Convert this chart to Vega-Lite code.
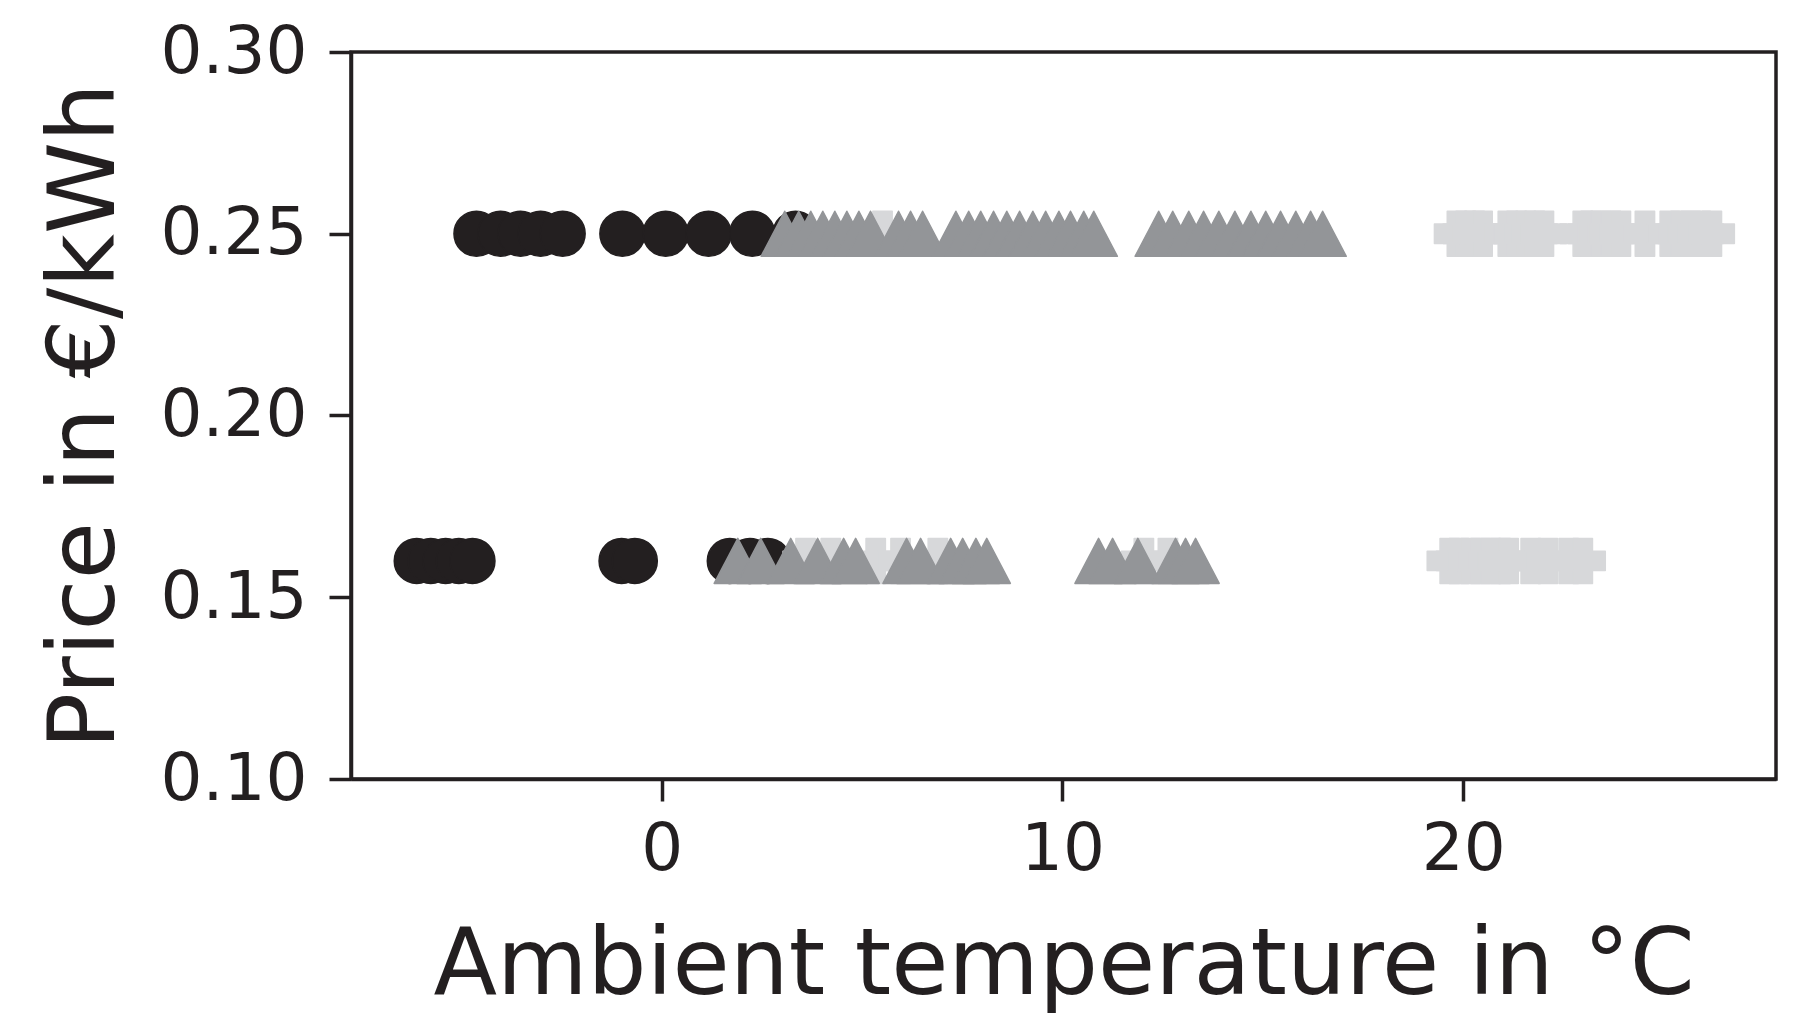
{
  "$schema": "https://vega.github.io/schema/vega-lite/v6.json",
  "autosize": {"type": "none"},
  "width": 1425,
  "height": 727,
  "padding": {"left": 351, "top": 52, "right": 38, "bottom": 252},
  "background": "white",
  "config": {
    "view": {"stroke": "#231f20", "strokeWidth": 3.5},
    "font": "DejaVu Sans",
    "axis": {
      "grid": false,
      "domainColor": "#231f20",
      "domainWidth": 3.5,
      "tickColor": "#231f20",
      "tickWidth": 3.5,
      "tickSize": 22,
      "labelFont": "DejaVu Sans",
      "labelFontSize": 66,
      "labelColor": "#231f20",
      "titleFont": "DejaVu Sans",
      "titleFontSize": 93,
      "titleFontWeight": "normal",
      "titleColor": "#231f20"
    }
  },
  "data": {
    "values": [
      {"temp": -4.62, "price": 0.25, "group": "cold"},
      {"temp": -4.02, "price": 0.25, "group": "cold"},
      {"temp": -3.52, "price": 0.25, "group": "cold"},
      {"temp": -3.02, "price": 0.25, "group": "cold"},
      {"temp": -2.47, "price": 0.25, "group": "cold"},
      {"temp": -0.98, "price": 0.25, "group": "cold"},
      {"temp": 0.10, "price": 0.25, "group": "cold"},
      {"temp": 1.17, "price": 0.25, "group": "cold"},
      {"temp": 2.26, "price": 0.25, "group": "cold"},
      {"temp": 3.34, "price": 0.25, "group": "cold"},
      {"temp": -6.11, "price": 0.16, "group": "cold"},
      {"temp": -5.76, "price": 0.16, "group": "cold"},
      {"temp": -5.39, "price": 0.16, "group": "cold"},
      {"temp": -5.06, "price": 0.16, "group": "cold"},
      {"temp": -4.72, "price": 0.16, "group": "cold"},
      {"temp": -1.0, "price": 0.16, "group": "cold"},
      {"temp": -0.67, "price": 0.16, "group": "cold"},
      {"temp": 1.70, "price": 0.16, "group": "cold"},
      {"temp": 2.2, "price": 0.16, "group": "cold"},
      {"temp": 2.65, "price": 0.16, "group": "cold"},
      {"temp": 19.84, "price": 0.25, "group": "warm"},
      {"temp": 20.06, "price": 0.25, "group": "warm"},
      {"temp": 20.28, "price": 0.25, "group": "warm"},
      {"temp": 20.48, "price": 0.25, "group": "warm"},
      {"temp": 21.11, "price": 0.25, "group": "warm"},
      {"temp": 21.33, "price": 0.25, "group": "warm"},
      {"temp": 21.56, "price": 0.25, "group": "warm"},
      {"temp": 21.78, "price": 0.25, "group": "warm"},
      {"temp": 22.01, "price": 0.25, "group": "warm"},
      {"temp": 22.98, "price": 0.25, "group": "warm"},
      {"temp": 23.18, "price": 0.25, "group": "warm"},
      {"temp": 23.43, "price": 0.25, "group": "warm"},
      {"temp": 23.68, "price": 0.25, "group": "warm"},
      {"temp": 23.93, "price": 0.25, "group": "warm"},
      {"temp": 24.53, "price": 0.25, "group": "warm"},
      {"temp": 25.15, "price": 0.25, "group": "warm"},
      {"temp": 25.42, "price": 0.25, "group": "warm"},
      {"temp": 25.67, "price": 0.25, "group": "warm"},
      {"temp": 25.92, "price": 0.25, "group": "warm"},
      {"temp": 26.20, "price": 0.25, "group": "warm"},
      {"temp": 5.51, "price": 0.25, "group": "warm"},
      {"temp": 19.66, "price": 0.16, "group": "warm"},
      {"temp": 19.89, "price": 0.16, "group": "warm"},
      {"temp": 20.18, "price": 0.16, "group": "warm"},
      {"temp": 20.43, "price": 0.16, "group": "warm"},
      {"temp": 20.68, "price": 0.16, "group": "warm"},
      {"temp": 20.93, "price": 0.16, "group": "warm"},
      {"temp": 21.13, "price": 0.16, "group": "warm"},
      {"temp": 21.68, "price": 0.16, "group": "warm"},
      {"temp": 22.11, "price": 0.16, "group": "warm"},
      {"temp": 22.63, "price": 0.16, "group": "warm"},
      {"temp": 22.98, "price": 0.16, "group": "warm"},
      {"temp": 3.59, "price": 0.16, "group": "warm"},
      {"temp": 4.22, "price": 0.16, "group": "warm"},
      {"temp": 5.34, "price": 0.16, "group": "warm"},
      {"temp": 5.96, "price": 0.16, "group": "warm"},
      {"temp": 6.89, "price": 0.16, "group": "warm"},
      {"temp": 12.03, "price": 0.16, "group": "warm"},
      {"temp": 12.63, "price": 0.16, "group": "warm"},
      {"temp": 3.07, "price": 0.25, "group": "mild"},
      {"temp": 3.42, "price": 0.25, "group": "mild"},
      {"temp": 3.72, "price": 0.25, "group": "mild"},
      {"temp": 4.02, "price": 0.25, "group": "mild"},
      {"temp": 4.32, "price": 0.25, "group": "mild"},
      {"temp": 4.62, "price": 0.25, "group": "mild"},
      {"temp": 4.92, "price": 0.25, "group": "mild"},
      {"temp": 5.21, "price": 0.25, "group": "mild"},
      {"temp": 5.91, "price": 0.25, "group": "mild"},
      {"temp": 6.21, "price": 0.25, "group": "mild"},
      {"temp": 6.51, "price": 0.25, "group": "mild"},
      {"temp": 7.34, "price": 0.25, "group": "mild"},
      {"temp": 7.66, "price": 0.25, "group": "mild"},
      {"temp": 7.96, "price": 0.25, "group": "mild"},
      {"temp": 8.28, "price": 0.25, "group": "mild"},
      {"temp": 8.61, "price": 0.25, "group": "mild"},
      {"temp": 8.93, "price": 0.25, "group": "mild"},
      {"temp": 9.26, "price": 0.25, "group": "mild"},
      {"temp": 9.58, "price": 0.25, "group": "mild"},
      {"temp": 9.91, "price": 0.25, "group": "mild"},
      {"temp": 10.20, "price": 0.25, "group": "mild"},
      {"temp": 10.53, "price": 0.25, "group": "mild"},
      {"temp": 10.78, "price": 0.25, "group": "mild"},
      {"temp": 12.40, "price": 0.25, "group": "mild"},
      {"temp": 12.75, "price": 0.25, "group": "mild"},
      {"temp": 13.15, "price": 0.25, "group": "mild"},
      {"temp": 13.52, "price": 0.25, "group": "mild"},
      {"temp": 13.90, "price": 0.25, "group": "mild"},
      {"temp": 14.30, "price": 0.25, "group": "mild"},
      {"temp": 14.70, "price": 0.25, "group": "mild"},
      {"temp": 15.07, "price": 0.25, "group": "mild"},
      {"temp": 15.44, "price": 0.25, "group": "mild"},
      {"temp": 15.82, "price": 0.25, "group": "mild"},
      {"temp": 16.19, "price": 0.25, "group": "mild"},
      {"temp": 16.49, "price": 0.25, "group": "mild"},
      {"temp": 1.90, "price": 0.16, "group": "mild"},
      {"temp": 2.47, "price": 0.16, "group": "mild"},
      {"temp": 3.22, "price": 0.16, "group": "mild"},
      {"temp": 3.89, "price": 0.16, "group": "mild"},
      {"temp": 4.54, "price": 0.16, "group": "mild"},
      {"temp": 4.84, "price": 0.16, "group": "mild"},
      {"temp": 6.11, "price": 0.16, "group": "mild"},
      {"temp": 6.46, "price": 0.16, "group": "mild"},
      {"temp": 7.21, "price": 0.16, "group": "mild"},
      {"temp": 7.51, "price": 0.16, "group": "mild"},
      {"temp": 7.84, "price": 0.16, "group": "mild"},
      {"temp": 8.11, "price": 0.16, "group": "mild"},
      {"temp": 10.90, "price": 0.16, "group": "mild"},
      {"temp": 11.25, "price": 0.16, "group": "mild"},
      {"temp": 11.88, "price": 0.16, "group": "mild"},
      {"temp": 12.82, "price": 0.16, "group": "mild"},
      {"temp": 13.07, "price": 0.16, "group": "mild"},
      {"temp": 13.32, "price": 0.16, "group": "mild"}
    ]
  },
  "mark": {"type": "point", "filled": true, "opacity": 1, "size": 2025, "strokeWidth": 1.5, "strokeJoin": "round"},
  "encoding": {
    "x": {
      "field": "temp",
      "type": "quantitative",
      "scale": {"domain": [-7.75, 27.8], "nice": false, "zero": false},
      "axis": {"values": [0, 10, 20], "title": "Ambient temperature in °C", "labelPadding": 16, "titlePadding": 38}
    },
    "y": {
      "field": "price",
      "type": "quantitative",
      "scale": {"domain": [0.1, 0.3], "nice": false, "zero": false},
      "axis": {"values": [0.1, 0.15, 0.2, 0.25, 0.3], "format": ".2f", "title": "Price in €/kWh", "labelPadding": 22, "titlePadding": 27}
    },
    "color": {
      "field": "group",
      "type": "nominal",
      "scale": {"domain": ["cold", "mild", "warm"], "range": ["#231f20", "#939598", "#d7d8da"]},
      "legend": null
    },
    "stroke": {
      "field": "group",
      "type": "nominal",
      "scale": {"domain": ["cold", "mild", "warm"], "range": ["#231f20", "#939598", "#d7d8da"]},
      "legend": null
    },
    "shape": {
      "field": "group",
      "type": "nominal",
      "scale": {"domain": ["cold", "mild", "warm"], "range": ["circle", "M0,-1L1.05,1L-1.05,1Z", "M-1,-0.43H-0.43V-1H0.43V-0.43H1V0.43H0.43V1H-0.43V0.43H-1Z"]},
      "legend": null
    }
  }
}
